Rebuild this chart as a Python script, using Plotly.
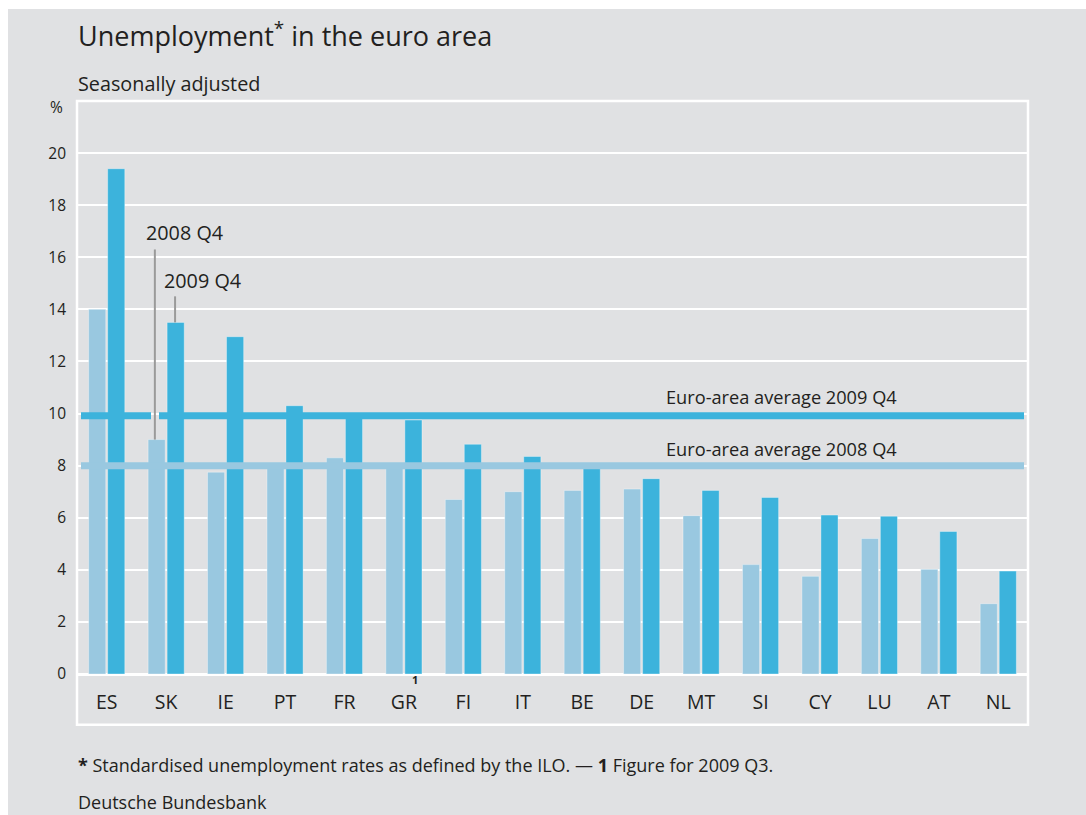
import plotly.graph_objects as go

countries = ["ES", "SK", "IE", "PT", "FR", "GR", "FI", "IT", "BE", "DE", "MT", "SI", "CY", "LU", "AT", "NL"]
q4_2008 = [14.0, 9.0, 7.75, 7.9, 8.3, 7.9, 6.7, 7.0, 7.05, 7.1, 6.08, 4.2, 3.75, 5.2, 4.02, 2.7]
q4_2009 = [19.4, 13.5, 12.95, 10.3, 9.9, 9.75, 8.82, 8.35, 7.9, 7.5, 7.05, 6.78, 6.1, 6.06, 5.47, 3.95]
avg_2008 = 8.0
avg_2009 = 9.92
y_ticks = [0, 2, 4, 6, 8, 10, 12, 14, 16, 18, 20]

BG = "#E0E1E3"
LIGHT = "#99C8E0"
DARK = "#3CB3DC"
TXT = "#231F20"
FONT = "Open Sans"

W, H = 1086, 815
L, R, T, B = 77, 58, 101, 141
PW, PH = W - L - R, H - T - B


def px(xp):
    return (xp - L) / PW


def py(yp):
    return (H - B - yp) / PH


fig = go.Figure()
fig.add_trace(go.Bar(x=countries, y=q4_2008, name="2008 Q4", marker_color=LIGHT,
                     marker_line=dict(color="rgba(255,255,255,0.35)", width=1)))
fig.add_trace(go.Bar(x=countries, y=q4_2009, name="2009 Q4", marker_color=DARK,
                     marker_line=dict(color="rgba(255,255,255,0.35)", width=1)))

shapes = [
    # white page margins
    dict(type="rect", xref="paper", yref="paper", x0=px(0), x1=px(8), y0=py(H), y1=py(0),
         fillcolor="white", line_width=0, layer="below"),
    dict(type="rect", xref="paper", yref="paper", x0=px(0), x1=px(W), y0=py(9), y1=py(0),
         fillcolor="white", line_width=0, layer="below"),
    # white frame including category label band
    dict(type="rect", xref="paper", yref="paper", x0=0, x1=1, y0=py(724.7), y1=1,
         line=dict(color="white", width=2.5), layer="below"),
    # average lines
    dict(type="line", xref="paper", yref="y", x0=px(81), x1=px(1024), y0=avg_2008, y1=avg_2008,
         line=dict(color=LIGHT, width=7)),
    dict(type="line", xref="paper", yref="y", x0=px(81), x1=px(151), y0=avg_2009, y1=avg_2009,
         line=dict(color=DARK, width=7)),
    dict(type="line", xref="paper", yref="y", x0=px(159), x1=px(1024), y0=avg_2009, y1=avg_2009,
         line=dict(color=DARK, width=7)),
    # leader lines
    dict(type="line", xref="x", yref="y", x0=0.81, x1=0.81, y0=q4_2008[1], y1=16.3,
         line=dict(color="#9A9A9A", width=2)),
    dict(type="line", xref="x", yref="y", x0=1.15, x1=1.15, y0=q4_2009[1], y1=14.5,
         line=dict(color="#9A9A9A", width=2)),
]

ann = [
    dict(text="Seasonally adjusted", xref="paper", yref="paper", x=px(76), y=py(83),
         xanchor="left", yanchor="middle", showarrow=False, font=dict(size=19.8, color=TXT)),
    dict(text="%", xref="paper", yref="paper", x=px(65), y=py(107),
         xanchor="right", yanchor="middle", showarrow=False, font=dict(size=15.5, color=TXT)),
    dict(text="2008 Q4", xref="x", yref="y", x=0.62, y=16.95,
         xanchor="left", yanchor="middle", showarrow=False, font=dict(size=19.8, color=TXT)),
    dict(text="2009 Q4", xref="x", yref="y", x=0.925, y=15.12,
         xanchor="left", yanchor="middle", showarrow=False, font=dict(size=19.8, color=TXT)),
    dict(text="Euro-area average 2009 Q4", xref="x", yref="y", x=9.37, y=10.63,
         xanchor="left", yanchor="middle", showarrow=False, font=dict(size=18.2, color=TXT)),
    dict(text="Euro-area average 2008 Q4", xref="x", yref="y", x=9.37, y=8.62,
         xanchor="left", yanchor="middle", showarrow=False, font=dict(size=18.2, color=TXT)),
    dict(text="<b>1</b>", xref="x", yref="paper", x=5.19, y=py(679.5),
         xanchor="center", yanchor="middle", showarrow=False, font=dict(size=11, color=TXT)),
    dict(text="<b>*</b> Standardised unemployment rates as defined by the ILO. \u2014 <b>1</b> Figure for 2009 Q3.",
         xref="paper", yref="paper", x=px(76), y=py(765),
         xanchor="left", yanchor="middle", showarrow=False, font=dict(size=18, color=TXT)),
    dict(text="Deutsche Bundesbank", xref="paper", yref="paper", x=px(76), y=py(802),
         xanchor="left", yanchor="middle", showarrow=False, font=dict(size=18, color=TXT)),
]

fig.update_layout(
    width=W, height=H,
    margin=dict(l=L, r=R, t=T, b=B),
    paper_bgcolor=BG, plot_bgcolor="rgba(0,0,0,0)",
    font=dict(family=FONT, color=TXT),
    showlegend=False,
    barmode="group", bargap=0.36, bargroupgap=0.1,
    title=dict(text="Unemployment<sup>*</sup> in the euro area", x=px(78), xref="paper", xanchor="left",
               y=1 - 36.5 / H, yref="container", yanchor="middle", font=dict(size=27, color=TXT)),
    shapes=shapes, annotations=ann,
)
fig.update_xaxes(type="category", range=[-0.5, 15.5], showgrid=False, showline=False, ticks="",
                 tickfont=dict(size=19.5, color=TXT), ticklabelstandoff=14, zeroline=False)
fig.update_yaxes(range=[0, 22], tickvals=y_ticks, showgrid=True, gridcolor="white", gridwidth=2,
                 zeroline=True, zerolinecolor="white", zerolinewidth=3, showline=False, ticks="",
                 tickfont=dict(size=15.5, color=TXT), ticklabelstandoff=10)

fig.write_html("out.html")
